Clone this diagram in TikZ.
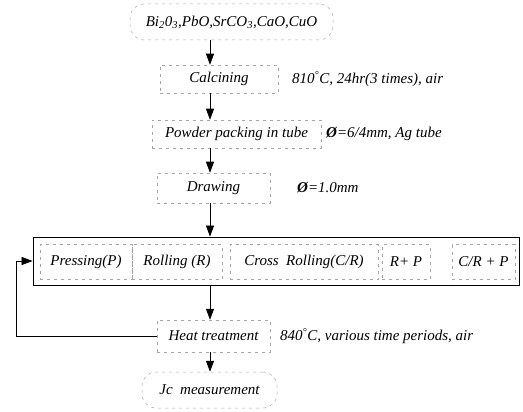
\documentclass[tikz,border=0pt]{standalone}
\usepackage{fontspec}
\setmainfont{Liberation Serif}
\usetikzlibrary{arrows.meta, positioning}

\tikzset{
  stepbox/.style={draw=gray!70, dash pattern=on 3pt off 4pt, line width=0.5pt, inner sep=2pt},
  endbox/.style={stepbox, rounded corners=14pt},
  note/.style={anchor=west, inner sep=0pt},
  flow/.style={-{Triangle[length=11pt, width=8pt]}, line width=0.7pt}
}

\begin{document}
\begin{tikzpicture}[x=1pt, y=-1pt, font=\fontsize{15}{17}\selectfont\itshape]
  \useasboundingbox (0,0) rectangle (523,412);
  \coordinate (spine) at (210,0);
  \coordinate (loop) at (16,0);

  % process chain
  \node[endbox, minimum width=203pt, minimum height=36pt] (raw) at (231.5,22) {Bi\textsubscript{2}0\textsubscript{3},PbO,SrCO\textsubscript{3},CaO,CuO};
  \node[stepbox, minimum width=118pt, minimum height=28pt] (calc) at (219,79) {Calcining};
  \node[stepbox, minimum width=169pt, minimum height=28pt] (pack) at (236.5,134) {Powder packing in tube};
  \node[stepbox, minimum width=113pt, minimum height=30pt] (draw) at (213.5,188) {Drawing};
  \node[draw, line width=0.8pt, minimum width=486pt, minimum height=48pt] (forming) at (276,261) {};
  \node[stepbox, minimum width=113pt, minimum height=32pt] (heat) at (213.5,336) {Heat treatment};
  \node[endbox, minimum width=135pt, minimum height=36pt] (jc) at (209.5,390) {Jc~ measurement};

  % deformation routes
  \node[stepbox, minimum width=92pt, minimum height=35pt] (press) at (86,262) {Pressing(P)};
  \node[stepbox, minimum width=90pt, minimum height=35pt] (roll) at (177,262) {Rolling (R)};
  \node[stepbox, minimum width=148pt, minimum height=35pt] (cross) at (304,262) {Cross~ Rolling(C/R)};
  \node[stepbox, minimum width=48pt, minimum height=35pt] (rp) at (406,262) {R+ P};
  \node[stepbox, minimum width=63pt, minimum height=35pt] (crp) at (483.5,262) {C/R + P};

  % conditions
  \node[note] (calcnote) at (292,79) {810\textsuperscript{°}C, 24hr(3 times), air};
  \node[note] (packnote) at (326,134) {\textbf{Ø}=6/4mm, Ag tube};
  \node[note] (drawnote) at (297,188) {\textbf{Ø}=1.0mm};
  \node[note] (heatnote) at (280,336) {840\textsuperscript{°}C, various time periods, air};

  \draw[flow] (raw.south -| spine) -- (calc.north -| spine);
  \draw[flow] (calc.south -| spine) -- (pack.north -| spine);
  \draw[flow] (pack.south -| spine) -- (draw.north -| spine);
  \draw[flow] (draw.south -| spine) -- (forming.north -| spine);
  \draw[flow] (forming.south -| spine) -- (heat.north -| spine);
  \draw[flow] (heat.south -| spine) -- (jc.north -| spine);
  \draw[flow] (heat.west) -- (heat.west -| loop) |- (forming.west);
\end{tikzpicture}
\end{document}
